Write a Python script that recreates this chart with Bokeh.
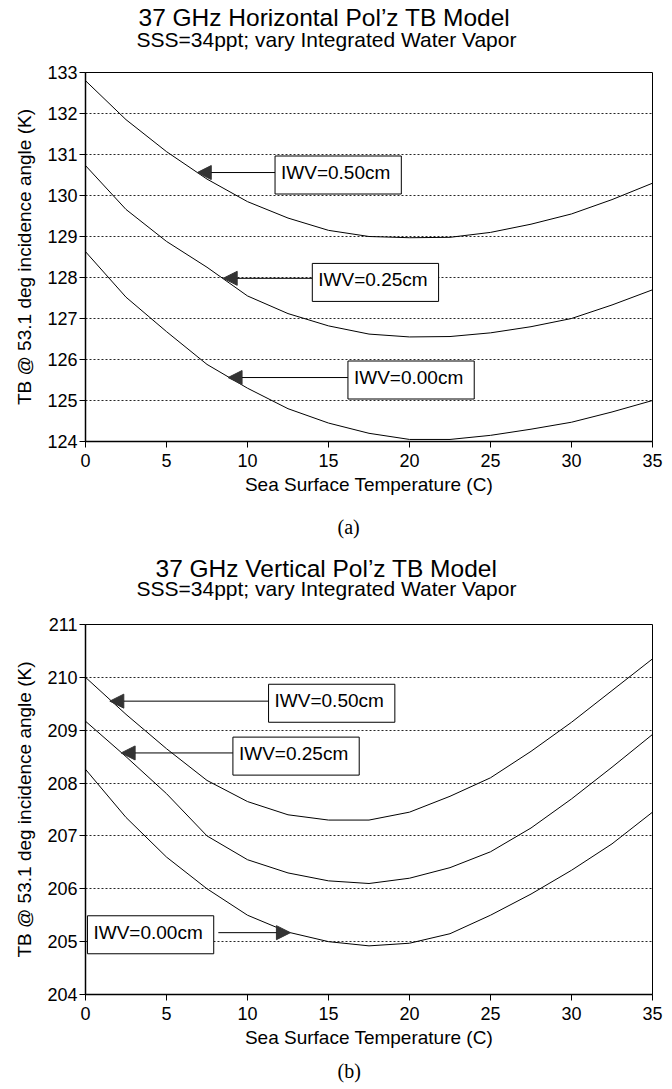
from bokeh.plotting import figure
from bokeh.models import Range1d, FixedTicker, Label, Arrow, NormalHead, Title
from bokeh.layouts import column
from bokeh.embed import file_html
from bokeh.resources import INLINE

# ---------------- data ----------------
sst = [0, 2.5, 5, 7.5, 10, 12.5, 15, 17.5, 20, 22.5, 25, 27.5, 30, 32.5, 35]
x_ticks = [0, 5, 10, 15, 20, 25, 30, 35]

# (a) horizontal polarisation
h_iwv050 = [132.8, 131.85, 131.07, 130.4, 129.85, 129.45, 129.15, 129.0, 128.97, 128.98, 129.1, 129.3, 129.55, 129.9, 130.3]
h_iwv025 = [130.73, 129.66, 128.88, 128.25, 127.55, 127.12, 126.82, 126.62, 126.55, 126.56, 126.65, 126.8, 127.0, 127.33, 127.7]
h_iwv000 = [128.63, 127.52, 126.68, 125.88, 125.3, 124.8, 124.45, 124.2, 124.05, 124.05, 124.15, 124.3, 124.47, 124.72, 125.0]
h_ticks = [124, 125, 126, 127, 128, 129, 130, 131, 132, 133]

# (b) vertical polarisation
v_iwv050 = [210.0, 209.3, 208.65, 208.05, 207.65, 207.4, 207.3, 207.3, 207.45, 207.75, 208.1, 208.6, 209.15, 209.75, 210.35]
v_iwv025 = [209.17, 208.5, 207.8, 207.0, 206.55, 206.3, 206.15, 206.1, 206.2, 206.4, 206.7, 207.15, 207.7, 208.3, 208.92]
v_iwv000 = [208.26, 207.35, 206.6, 206.0, 205.5, 205.18, 205.0, 204.92, 204.97, 205.15, 205.5, 205.9, 206.35, 206.85, 207.45]
v_ticks = [204, 205, 206, 207, 208, 209, 210, 211]

iwv_labels = ["IWV=0.50cm", "IWV=0.25cm", "IWV=0.00cm"]

FONT = "Liberation Sans"
PAD_X = 11
PAD_Y = 6

# annotation placement: (label, box_left_x, box_y, arrow_start_x, arrow_y, tip_x, tip_y)
h_boxes = [
    (iwv_labels[0], 11.7, 130.5, 11.7, 130.56, 6.9, 130.56),
    (iwv_labels[1], 14.0, 127.88, 14.0, 127.98, 8.5, 127.98),
    (iwv_labels[2], 16.2, 125.5, 16.2, 125.56, 8.8, 125.56),
]
v_boxes = [
    (iwv_labels[0], 11.3, 209.51, 11.3, 209.55, 1.5, 209.55),
    (iwv_labels[1], 9.1, 208.51, 9.1, 208.57, 2.2, 208.57),
    (iwv_labels[2], 0.12, 205.13, 8.2, 205.17, 12.65, 205.17),
]


def make_panel(title, subtitle, tag, ylo, yhi, yticks, series, boxes,
               fig_h, top, bottom, title_off, title_so, sub_so, spacer_so, tag_so):
    p = figure(width=670, height=fig_h, title=None,
               x_range=Range1d(0, 35), y_range=Range1d(ylo, yhi),
               output_backend="svg", toolbar_location=None,
               min_border_left=85, min_border_right=18,
               min_border_top=top, min_border_bottom=bottom,
               background_fill_color="white", border_fill_color="white")
    p.outline_line_color = "black"
    p.outline_line_width = 1

    for ax in (p.xaxis[0], p.yaxis[0]):
        ax.axis_line_color = "black"
        ax.axis_line_width = 1.5
        ax.major_tick_line_color = "black"
        ax.major_tick_out = 6
        ax.major_tick_in = 0
        ax.minor_tick_line_color = None
        ax.major_label_text_font = FONT
        ax.major_label_text_font_size = "18px"
        ax.major_label_text_color = "black"
        ax.axis_label_text_font = FONT
        ax.axis_label_text_font_size = "19px"
        ax.axis_label_text_font_style = "normal"
        ax.axis_label_text_color = "black"
    p.xaxis.ticker = FixedTicker(ticks=x_ticks)
    p.yaxis.ticker = FixedTicker(ticks=yticks)
    p.xaxis.axis_label = "Sea Surface Temperature (C)"
    p.yaxis.axis_label = "TB @ 53.1 deg incidence angle (K)"
    p.xaxis.major_label_standoff = 6
    p.xaxis.axis_label_standoff = 4
    p.yaxis.major_label_standoff = 2
    p.yaxis.axis_label_standoff = 9

    p.xgrid.visible = False
    p.ygrid.grid_line_color = "black"
    p.ygrid.grid_line_dash = "2 2"
    p.ygrid.grid_line_width = 1
    p.ygrid.grid_line_alpha = 0.85

    for vals in series:
        p.line(sst, vals, line_color="black", line_width=1)

    for (txt, bx0, by, ax0, ay, tx, ty) in boxes:
        p.add_layout(Arrow(end=NormalHead(size=14, fill_color="#333333", line_color="#333333"),
                           x_start=ax0, y_start=ay, x_end=tx, y_end=ty,
                           line_color="black", line_width=1))
        p.add_layout(Label(x=bx0, y=by, text=txt,
                           text_align="left", text_baseline="middle",
                           text_font=FONT, text_font_size="19px", text_color="black",
                           background_fill_color="white", border_line_color="black",
                           border_line_width=1, padding=(PAD_Y, PAD_X, PAD_Y, PAD_X)))

    # stacked outward from the frame: spacer, subtitle, title
    p.add_layout(Title(text="\u00a0", standoff=spacer_so, text_font=FONT,
                       text_font_size="10px", text_font_style="normal"), "above")
    p.add_layout(Title(text=subtitle, align="left", offset=51, standoff=sub_so,
                       text_font=FONT, text_font_size="21px", text_font_style="normal",
                       text_color="black"), "above")
    p.add_layout(Title(text=title, align="left", offset=title_off, standoff=title_so,
                       text_font=FONT, text_font_size="24.5px", text_font_style="normal",
                       text_color="black"), "above")
    p.add_layout(Title(text=tag, align="left", offset=252, standoff=tag_so,
                       text_font="Liberation Serif", text_font_size="20px",
                       text_font_style="normal", text_color="black"), "below")
    return p


pa = make_panel("37 GHz Horizontal Pol\u2019z TB Model",
                "SSS=34ppt; vary Integrated Water Vapor", "(a)",
                124, 133, h_ticks, [h_iwv050, h_iwv025, h_iwv000], h_boxes,
                fig_h=553, top=72, bottom=112, title_off=53,
                title_so=-1, sub_so=-9, spacer_so=13, tag_so=32)

pb = make_panel("37 GHz Vertical Pol\u2019z TB Model",
                "SSS=34ppt; vary Integrated Water Vapor", "(b)",
                204, 211, v_ticks, [v_iwv050, v_iwv025, v_iwv000], v_boxes,
                fig_h=535, top=70, bottom=94, title_off=70,
                title_so=-1, sub_so=-14, spacer_so=19, tag_so=14)

layout = column(pa, pb, spacing=0)
open("out.html", "w").write(file_html(layout, INLINE))
